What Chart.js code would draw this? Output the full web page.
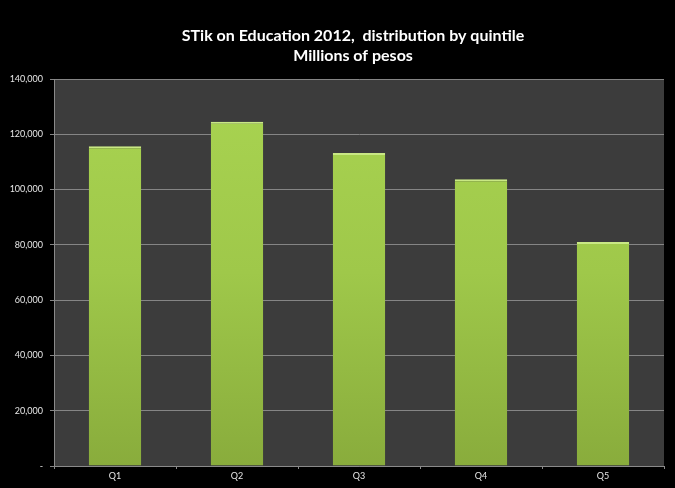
<!DOCTYPE html>
<html>
<head>
<meta charset="utf-8">
<script src="https://cdn.jsdelivr.net/npm/chart.js@4"></script>
<style>
  html, body { margin: 0; padding: 0; background: #000; }
  #wrap { width: 675px; height: 488px; }
</style>
</head>
<body>
<div id="wrap"><canvas id="quintileChart" width="675" height="488"></canvas></div>
<script>
const quintiles = ['Q1', 'Q2', 'Q3', 'Q4', 'Q5'];
const spending = [115700, 124500, 113200, 103700, 81000];
const titleLines = ['STik on Education 2012,  distribution by quintile', 'Millions of pesos'];

const ctx = document.getElementById('quintileChart').getContext('2d');

// black page, dark panel behind the bars
const plotBackground = {
    id: 'plotBackground',
    beforeDraw(chart) {
        const { ctx, chartArea: a } = chart;
        ctx.save();
        ctx.fillStyle = '#000';
        ctx.fillRect(0, 0, chart.width, chart.height);
        ctx.fillStyle = '#3c3c3c';
        ctx.fillRect(a.left, a.top, a.right - a.left, a.bottom - a.top);
        ctx.restore();
    }
};

// two-line heading, sitting a little right of the canvas centre
const heading = {
    id: 'heading',
    afterDraw(chart) {
        const c = chart.ctx;
        c.save();
        c.fillStyle = '#ffffff';
        c.font = 'bold 16px Lato';
        c.textAlign = 'center';
        c.textBaseline = 'alphabetic';
        c.fillText(titleLines[0], 353, 41);
        c.fillText(titleLines[1], 353, 61);
        c.restore();
    }
};

function barFill(context) {
    const area = context.chart.chartArea;
    if (!area) return '#9cc447';
    const g = context.chart.ctx.createLinearGradient(0, area.top, 0, area.bottom);
    g.addColorStop(0, '#a9d451');
    g.addColorStop(0.5, '#9fc84a');
    g.addColorStop(1, '#89ac3c');
    return g;
}

new Chart(ctx, {
    type: 'bar',
    data: {
        labels: quintiles,
        datasets: [{
            label: 'STik on Education 2012',
            data: spending,
            backgroundColor: barFill,
            borderColor: '#c9e884',
            borderWidth: { top: 2, left: 0, right: 0, bottom: 0 },
            borderSkipped: false,
            barPercentage: 0.43,
            categoryPercentage: 1.0
        }]
    },
    options: {
        responsive: false,
        animation: false,
        layout: { padding: { left: 0, right: 11, top: 79, bottom: 0 } },
        plugins: {
            legend: { display: false },
            tooltip: { enabled: false },
            title: { display: false }
        },
        scales: {
            x: {
                grid: { drawOnChartArea: false, offset: true, color: '#8a8a8a', tickLength: 3 },
                border: { color: '#8a8a8a' },
                ticks: { color: '#e6e6e6', font: { family: 'Lato', size: 9 }, padding: 2 },
                afterFit(scale) { scale.height = 22; }
            },
            y: {
                min: 0,
                max: 140000,
                ticks: {
                    stepSize: 20000,
                    color: '#e6e6e6',
                    font: { family: 'Lato', size: 9 },
                    padding: 7,
                    callback: v => v === 0 ? '-' : v.toLocaleString('en-US')
                },
                grid: { color: '#858585', lineWidth: 1, tickLength: 4 },
                border: { color: '#8a8a8a' },
                afterFit(scale) { scale.width = 54; }
            }
        }
    },
    plugins: [plotBackground, heading]
});
</script>
</body>
</html>
